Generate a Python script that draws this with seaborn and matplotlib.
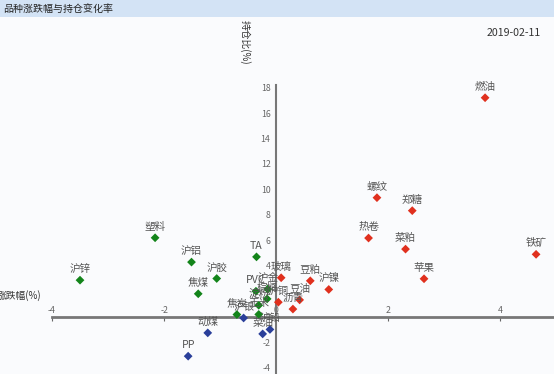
import matplotlib
matplotlib.use("Agg")
import matplotlib.pyplot as plt
import seaborn as sns
import pandas as pd
from matplotlib.patches import Rectangle

sns.set_theme(style="white")
plt.rcParams['font.family'] = ['Noto Sans CJK SC', 'DejaVu Sans']
plt.rcParams['axes.unicode_minus'] = False

names = ["燃油", "螺纹", "郑糖", "热卷", "菜粕", "铁矿", "苹果", "豆粕", "沪镍", "玻璃",
         "豆油", "沥青", "沪铜",
         "沪锌", "塑料", "沪铝", "沪胶", "焦煤", "TA", "PVC", "沪金", "棕榈", "淀粉", "焦炭", "玉米",
         "沪银", "沪铅", "菜油", "动煤", "PP"]
change = [3.73, 1.80, 2.43, 1.65, 2.31, 4.64, 2.64, 0.61, 0.94, 0.09,
          0.42, 0.30, 0.04,
          -3.50, -2.16, -1.51, -1.06, -1.39, -0.35, -0.36, -0.15, -0.16, -0.31, -0.70, -0.31,
          -0.58, -0.11, -0.24, -1.22, -1.57]
oi_change = [17.2, 9.35, 8.33, 6.18, 5.31, 4.90, 2.98, 2.82, 2.14, 3.06,
             1.32, 0.60, 1.14,
             2.87, 6.20, 4.29, 3.00, 1.80, 4.70, 2.00, 2.17, 1.40, 0.90, 0.17, 0.18,
             -0.10, -1.00, -1.35, -1.27, -3.10]
x_ticks = [-4, -2, 0, 2, 4]
y_ticks = [-4, -2, 0, 2, 4, 6, 8, 10, 12, 14, 16, 18]

def group(x, y):
    if y < 0:
        return "neg"
    return "up" if x > 0 else "down"

df = pd.DataFrame({"name": names, "x": change, "y": oi_change})
df["g"] = [group(a, b) for a, b in zip(df.x, df.y)]
palette = {"up": "#e0301e", "down": "#13841a", "neg": "#2a3f9a"}

bg = "#fafbfd"
fig = plt.figure(figsize=(5.54, 3.74), dpi=100)
fig.patch.set_facecolor(bg)
# title bar
fig.patches.append(Rectangle((0, 1 - 17 / 374), 1, 17 / 374, transform=fig.transFigure,
                             facecolor="#d3e3f5", edgecolor="none", zorder=0))
fig.text(3 / 554, 1 - 9 / 374, "品种涨跌幅与持仓变化率", fontsize=7.2, color="#222222",
         va="center", ha="left")
fig.text(541 / 554, 1 - 33 / 374, "2019-02-11", fontsize=7.6, color="#333333",
         va="center", ha="right")

ax = fig.add_axes([52 / 554, 0, 502 / 554, 289 / 374])
ax.set_facecolor(bg)
sns.scatterplot(data=df, x="x", y="y", hue="g", palette=palette, marker="D", s=20,
                edgecolor="none", legend=False, ax=ax, zorder=3)
for _, r in df.iterrows():
    ax.annotate(r["name"], (r["x"], r["y"]), xytext=(0, 6), textcoords="offset pixels",
                ha="center", va="bottom", fontsize=7.6, color="#555555", zorder=4)

ax.set_xlim(-4, 4.96)
ax.set_ylim(-4.5, 18.2)
for s in ["right", "bottom"]:
    ax.spines[s].set_visible(False)
ax.spines["top"].set_position(("data", 0))
ax.spines["top"].set_color("#777777")
ax.spines["top"].set_linewidth(2)
ax.spines["left"].set_position(("data", 0))
ax.spines["left"].set_color("#777777")
ax.spines["left"].set_linewidth(1.5)
ax.xaxis.tick_top()
ax.set_xticks(x_ticks)
ax.set_yticks(y_ticks)
ax.tick_params(axis="x", labelsize=6.3, colors="#666666", length=3, width=0.8, pad=1, direction="in")
ax.tick_params(axis="y", labelsize=6.3, colors="#666666", length=3, width=0.8, pad=1, direction="out")
ax.set_xlabel("")
ax.set_ylabel("")
fig.text(-3 / 554, 1 - 296 / 374, "涨跌幅(%)", fontsize=7, color="#333333", va="center", ha="left")
fig.text(245 / 554, 1 - 42 / 374, "持仓比(%)", fontsize=7, color="#333333", va="center",
         ha="center", rotation=-90)

fig.savefig("out.png", dpi=100, facecolor=bg)
